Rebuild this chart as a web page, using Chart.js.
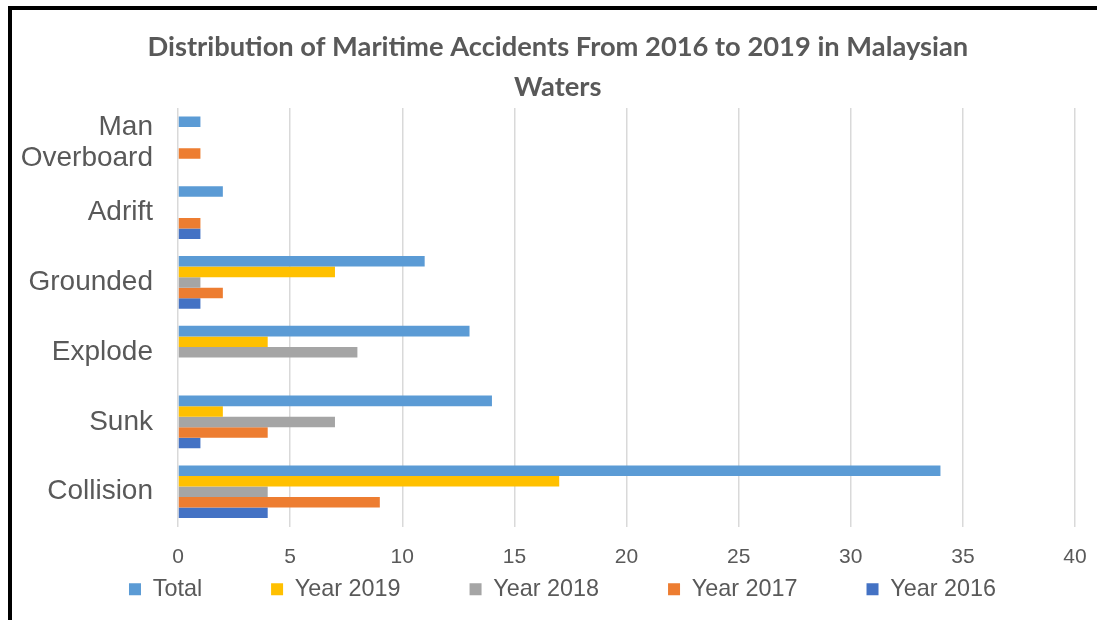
<!DOCTYPE html>
<html>
<head>
<meta charset="utf-8">
<script src="https://cdn.jsdelivr.net/npm/chart.js@4/dist/chart.umd.min.js"></script>
<style>
  body { margin: 0; background: #fff; }
  #wrap { position: relative; width: 1097px; height: 620px; overflow: hidden; }
  #accidentChart { position: absolute; left: 0; top: 0; }
  .frame {
    position: absolute; left: 8px; top: 6px; right: -10px; bottom: -10px;
    border-top: 4px solid #000; border-left: 4px solid #000; pointer-events: none;
  }
</style>
</head>
<body>
<div id="wrap">
  <canvas id="accidentChart" width="1097" height="620"></canvas>
  <div class="frame"></div>
</div>
<script>
const chartTitle = ["Distribution of Maritime Accidents From 2016 to 2019 in Malaysian", "Waters"];
const categories = [["Man", "Overboard"], "Adrift", "Grounded", "Explode", "Sunk", "Collision"];

const totalCounts = [1, 2, 11, 13, 14, 34];
const year2019 = [0, 0, 7, 4, 2, 17];
const year2018 = [0, 0, 1, 8, 7, 4];
const year2017 = [1, 1, 2, 0, 4, 9];
const year2016 = [0, 1, 1, 0, 1, 4];

const xTicks = [0, 5, 10, 15, 20, 25, 30, 35, 40];

const textGrey = "#595959";
// legend items in the original are spread wide; trailing spaces widen each item
const legendGap = "\u00a0".repeat(10);
// title sits a little right of the canvas centre in the original
const titleNudge = "\u00a0";

// the original legend is centred a bit right of the canvas centre
const legendShift = {
  id: "legendShift",
  afterLayout(chart) {
    if (!chart.legend) return;
    chart.legend.left += 8;
    chart.legend.right += 8;
  }
};

function makeSeries(label, data, color) {
  return { label: label, data: data, backgroundColor: color, borderWidth: 0 };
}

function drawAccidentChart() {
  const canvas = document.getElementById("accidentChart");
  if (!canvas || typeof Chart === "undefined") return;

  new Chart(canvas, {
    type: "bar",
    data: {
      labels: categories,
      datasets: [
        makeSeries("Total", totalCounts, "#5B9BD5"),
        makeSeries("Year 2019", year2019, "#FFC000"),
        makeSeries("Year 2018", year2018, "#A5A5A5"),
        makeSeries("Year 2017", year2017, "#ED7D31"),
        makeSeries("Year 2016", year2016, "#4472C4")
      ]
    },
    plugins: [legendShift],
    options: {
      indexAxis: "y",
      responsive: false,
      animation: false,
      categoryPercentage: 0.755,
      barPercentage: 1,
      layout: { padding: { left: 16, right: 4, top: 0, bottom: 9 } },
      plugins: {
        title: {
          display: true,
          text: chartTitle.map(line => titleNudge + line),
          color: textGrey,
          font: { family: "Lato", size: 27.3, weight: "bold", lineHeight: 1.465 },
          padding: { top: 27, bottom: 1 }
        },
        legend: {
          position: "bottom",
          labels: {
            color: textGrey,
            boxWidth: 12,
            boxHeight: 12,
            padding: 4,
            font: { family: "Liberation Sans", size: 23.4 },
            generateLabels: chart => Chart.defaults.plugins.legend.labels.generateLabels(chart).map((item, i, all) => {
              if (i < all.length - 1) item.text = item.text + legendGap;
              return item;
            })
          }
        },
        tooltip: { enabled: false }
      },
      scales: {
        x: {
          min: xTicks[0],
          max: xTicks[xTicks.length - 1],
          afterBuildTicks: axis => { axis.ticks = xTicks.map(v => ({ value: v })); },
          afterFit: axis => {
            axis.height = 47;
            axis.paddingRight = 22;
          },
          grid: { color: "#D9D9D9", lineWidth: 1.5, drawTicks: false },
          border: { display: false },
          ticks: { color: textGrey, padding: 18, font: { family: "Liberation Sans", size: 21 } }
        },
        y: {
          grid: { display: false, drawTicks: false },
          border: { display: false },
          afterFit: axis => { axis.width = 162; },
          ticks: { color: textGrey, padding: 25, autoSkip: false, font: { family: "Liberation Sans", size: 28, lineHeight: 1.12 } }
        }
      }
    }
  });
}

drawAccidentChart();
</script>
</body>
</html>
